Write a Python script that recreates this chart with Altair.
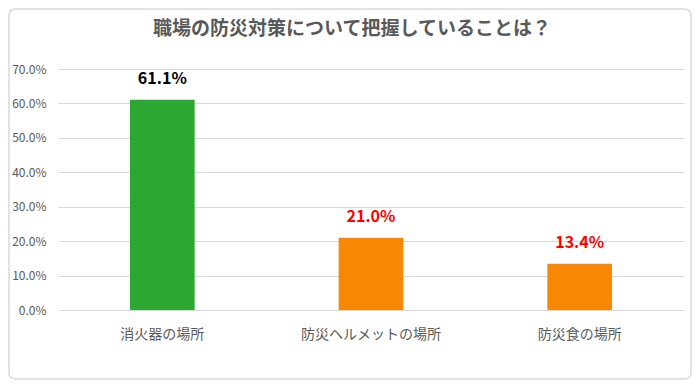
import altair as alt
import pandas as pd

categories = ["消火器の場所", "防災ヘルメットの場所", "防災食の場所"]
values = [61.1, 21.0, 13.4]
bar_colors = ["#2CA832", "#F88804", "#F88804"]
label_colors = ["#000000", "#FF0000", "#FF0000"]
y_ticks = [0, 10, 20, 30, 40, 50, 60, 70]
title_text = "職場の防災対策について把握していることは？"

df = pd.DataFrame({
    "cat": categories,
    "val": values,
    "frac": [v / 100 for v in values],
    "lab": [f"{v:.1f}%" for v in values],
})

W, H = 626, 241
PAD = {"left": 50, "top": 61, "right": 8, "bottom": 70}
FONT = "Noto Sans CJK JP"

x = alt.X("cat:N", sort=categories, title=None,
          scale=alt.Scale(paddingInner=0.69, paddingOuter=0.345),
          axis=alt.Axis(labelAngle=0, labelFontSize=14, labelColor="#595959",
                        labelFont=FONT, labelPadding=17, ticks=False,
                        domain=False, grid=False))
y = alt.Y("frac:Q", title=None,
          scale=alt.Scale(domain=[0, 0.7], nice=False),
          axis=alt.Axis(values=[t / 100 for t in y_ticks], format=".1%",
                        labelFontSize=12, labelColor="#595959", labelFont=FONT,
                        labelPadding=12, ticks=False, domain=False,
                        labelOverlap=False, labelFlush=False,
                        gridColor="#D9D9D9", gridWidth=1))

base = alt.Chart(df)

bars = base.mark_bar().encode(
    x=x, y=y,
    color=alt.Color("cat:N", scale=alt.Scale(domain=categories, range=bar_colors), legend=None),
)

labels = base.mark_text(baseline="bottom", dy=-13, fontSize=16, fontWeight="bold", font=FONT).encode(
    x=x, y=y,
    text="lab:N",
    color=alt.Color("cat:N", scale=alt.Scale(domain=categories, range=label_colors), legend=None),
)

border = alt.Chart(pd.DataFrame({"a": [0]})).mark_rect(
    fill=None, stroke="#D9D9D9", strokeWidth=1.5, cornerRadius=6, clip=False
).encode(
    x=alt.value(-PAD["left"] + 1),
    x2=alt.value(W + PAD["right"] - 1),
    y=alt.value(-PAD["top"] + 1),
    y2=alt.value(H + PAD["bottom"] - 1),
)

chart = alt.layer(bars, labels, border).resolve_scale(color="independent").properties(
    width=W, height=H,
    autosize=alt.AutoSizeParams(type="none"),
    padding=PAD,
    background="white",
    title=alt.Title(title_text, fontSize=19, fontWeight="bold", color="#595959",
                    font=FONT, offset=-31, dx=-19, anchor="middle"),
).configure_view(strokeWidth=0, stroke="transparent")

chart.save("out.html", embed_options={"renderer": "svg", "actions": False})
